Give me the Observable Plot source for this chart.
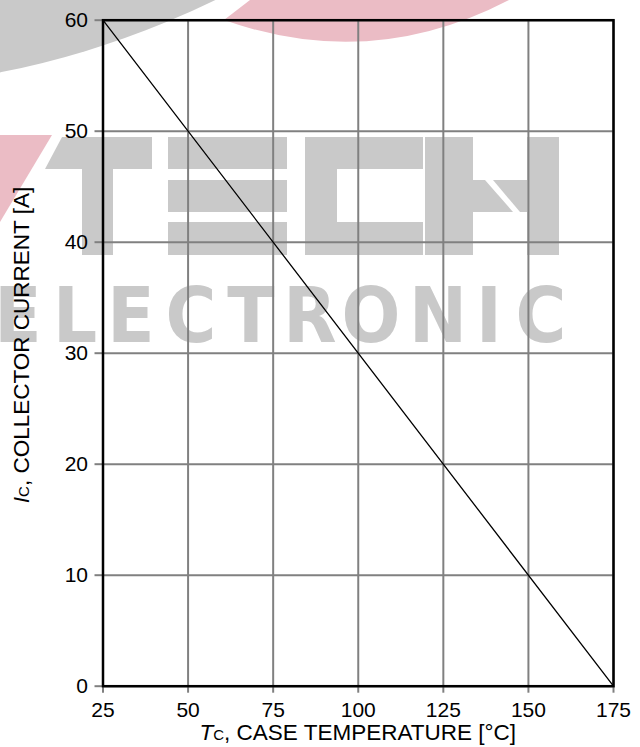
<!DOCTYPE html>
<html>
<head>
<meta charset="utf-8">
<script src="https://cdn.jsdelivr.net/npm/d3@7"></script>
<script src="https://cdn.jsdelivr.net/npm/@observablehq/plot@0.6"></script>
<style>
  html, body { margin: 0; padding: 0; background: #ffffff; }
  #chart { position: relative; width: 640px; height: 747px; overflow: hidden; }
  #chart svg { position: absolute; left: 0; top: 0; }
</style>
</head>
<body>
<div id="chart"></div>
<script>
// Collector current derating versus case temperature
const caseTemp = [25, 175];          // °C
const collectorCurrent = [60, 0];    // A
const xTicks = [25, 50, 75, 100, 125, 150, 175];
const yTicks = [0, 10, 20, 30, 40, 50, 60];
const brandTop = "TECH";
const brandBottom = "ELECTRONIC";

const derating = caseTemp.map((t, i) => ({t, ic: collectorCurrent[i]}));

const W = 640, H = 747;
const margin = {left: 102.5, right: 27, top: 19.7, bottom: 61.3};
const font = "'Liberation Sans', Arial, Helvetica, sans-serif";
const gridGray = "#808080";

const root = d3.select("#chart");

// Background brand logo, drawn beneath the chart
const wm = root.append("svg").attr("width", W).attr("height", H);
const wmGray = "#c9c9c9", wmRed = "#ebbcc5";
wm.append("circle").attr("cx", -170).attr("cy", -790).attr("r", 879).attr("fill", wmGray);
wm.append("path").attr("d", "M250,0 L224,20 Q371,72 509,0 Z").attr("fill", wmRed);
wm.append("path").attr("d", "M0,135 L52,135 L0,222 Z").attr("fill", wmRed);
const blocks = [
  // T
  "M62,137 L152,137 L152,169 L45,169 Z",
  "M82,137 H113 V255 H82 Z",
  // E
  "M168,137 H287 V169 H168 Z",
  "M168,180 H287 V212 H168 Z",
  "M168,222 H287 V255 H168 Z",
  // C
  "M305,137 H337 V255 H305 Z",
  "M337,137 H423 V169 H337 Z",
  "M337,222 H423 V255 H337 Z",
  // H
  "M425,137 H473 V255 H425 Z",
  "M473,180 L485,180 L513,212 L473,212 Z",
  "M493,180 L527,180 L527,212 L520,212 Z",
  "M527,137 H559 V255 H527 Z"
];
const logo = wm.append("g").attr("fill", wmGray);
logo.append("title").text(brandTop);
blocks.forEach(d => logo.append("path").attr("d", d));
const letterCenters = [18, 75, 131, 191, 251, 310, 371, 438, 489, 541];
brandBottom.split("").forEach((ch, i) => {
  wm.append("text")
    .attr("x", letterCenters[i]).attr("y", 342)
    .attr("text-anchor", "middle")
    .attr("fill", wmGray)
    .style("font-family", "'Liberation Sans Narrow', 'DejaVu Sans Condensed', 'Liberation Sans', sans-serif")
    .style("font-weight", "bold")
    .style("font-size", "77px")
    .text(ch);
});

const chart = Plot.plot({
  width: W,
  height: H,
  marginLeft: margin.left,
  marginRight: margin.right,
  marginTop: margin.top,
  marginBottom: margin.bottom,
  style: {background: "transparent", fontFamily: font, fontSize: "21px", color: "#000", overflow: "visible"},
  x: {domain: [25, 175], label: null},
  y: {domain: [0, 60], label: null},
  marks: [
    Plot.gridX(xTicks, {stroke: gridGray, strokeOpacity: 1, strokeWidth: 2}),
    Plot.gridY(yTicks, {stroke: gridGray, strokeOpacity: 1, strokeWidth: 2}),
    Plot.axisX(xTicks, {tickSize: 7, tickPadding: 9, stroke: gridGray, strokeWidth: 2, fill: "#000", label: null}),
    Plot.axisY(yTicks, {tickSize: 8, tickPadding: 7, stroke: gridGray, strokeWidth: 2, fill: "#000", label: null}),
    Plot.line(derating, {x: "t", y: "ic", stroke: "#000", strokeWidth: 1.3}),
    Plot.frame({stroke: "#000", strokeWidth: 2.5})
  ]
});
root.node().appendChild(chart);

// Axis titles with italic symbol and small subscript
const svg = d3.select(chart);
const plotCx = margin.left + (W - margin.left - margin.right) / 2;
const titleSize = "22.5px", subSize = "15px";

const xl = svg.append("text")
  .attr("x", plotCx).attr("y", 740)
  .attr("text-anchor", "middle")
  .attr("fill", "#000")
  .style("font-family", font).style("font-size", titleSize);
xl.append("tspan").attr("font-style", "italic").text("T");
xl.append("tspan").attr("font-size", subSize).text("C");
xl.append("tspan").text(", CASE TEMPERATURE [°C]");

const yl = svg.append("text")
  .attr("transform", "translate(28.5,345) rotate(-90)")
  .attr("text-anchor", "middle")
  .attr("fill", "#000")
  .style("font-family", font).style("font-size", titleSize);
yl.append("tspan").attr("font-style", "italic").text("I");
yl.append("tspan").attr("font-size", subSize).text("C");
yl.append("tspan").text(", COLLECTOR CURRENT [A]");
</script>
</body>
</html>
